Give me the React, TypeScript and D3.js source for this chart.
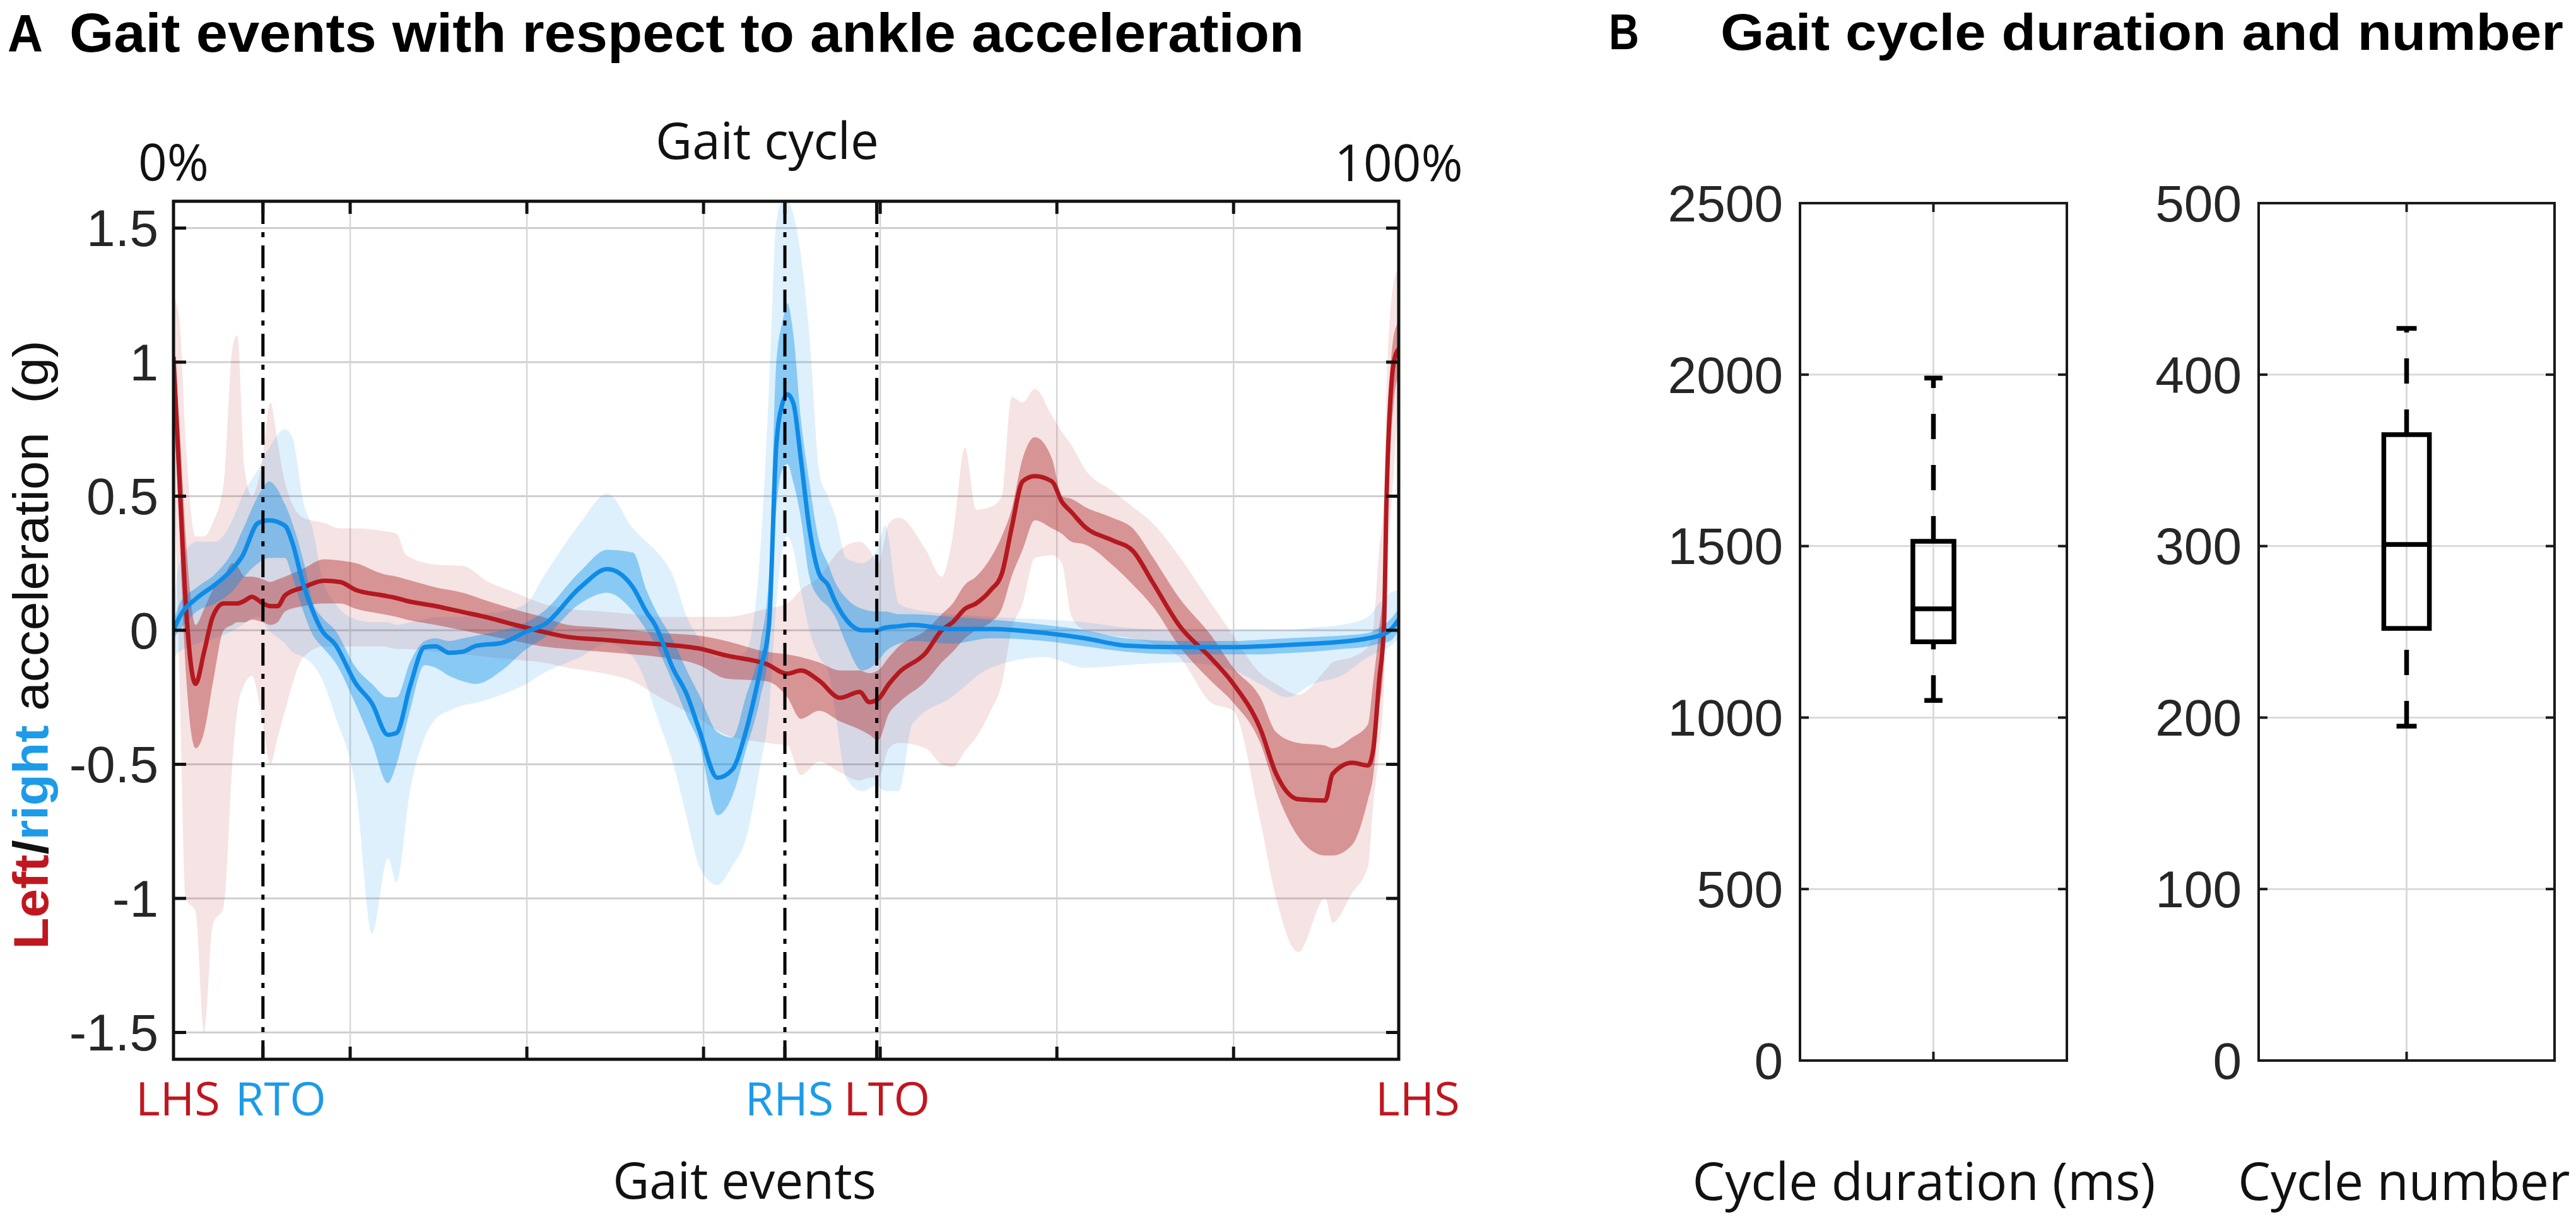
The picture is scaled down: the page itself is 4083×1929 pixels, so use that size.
import React from "react";
import * as d3 from "d3";

// ---- Panel A: ankle acceleration over the gait cycle (x in % of cycle, y in g) ----
const redX = [0, 0.5, 1.0, 1.8, 2.5, 3.2, 4.1, 4.8, 5.2, 5.8, 6.4, 7.3, 7.9, 8.5, 9.1, 10.6, 12.3, 13.6, 14.9, 17.1, 18.2, 19.0, 21.4, 23.6, 25.7, 27.9, 30.1, 32.2, 35, 37.5, 39.7, 42.9, 45.1, 48.4, 50.1, 51.2, 52.7, 54.4, 56.0, 56.8, 57.5, 58.4, 59.2, 61.4, 62.7, 63.6, 64.6, 65.5, 66.7, 67.6, 68.4, 69.3, 70.3, 71.7, 72.5, 73.3, 74.4, 76.6, 78.3, 79.9, 82.1, 84.7, 86.5, 88.7, 90.0, 91.8, 94.0, 94.6, 96.2, 97.5, 97.9, 98.4, 98.8, 99.0, 99.6, 100];
const redMean = [1.02, 0.55, 0.1, -0.2, -0.08, 0.05, 0.1, 0.1, 0.1, 0.11, 0.125, 0.1, 0.09, 0.09, 0.13, 0.16, 0.185, 0.18, 0.15, 0.13, 0.12, 0.11, 0.09, 0.068, 0.047, 0.02, -0.005, -0.025, -0.035, -0.045, -0.052, -0.068, -0.094, -0.126, -0.162, -0.15, -0.188, -0.252, -0.23, -0.268, -0.257, -0.2, -0.158, -0.084, 0.0, 0.03, 0.08, 0.1, 0.15, 0.21, 0.38, 0.555, 0.575, 0.555, 0.48, 0.44, 0.385, 0.336, 0.296, 0.18, 0.017, -0.105, -0.2, -0.367, -0.536, -0.63, -0.635, -0.536, -0.494, -0.504, -0.45, -0.19, 0.02, 0.48, 1.0, 1.05];
const redInLo = [0.9, 0.35, -0.15, -0.44, -0.38, -0.2, 0.0, 0.02, 0.03, 0.03, 0.04, 0.03, 0.02, 0.03, 0.07, 0.09, 0.1, 0.1, 0.08, 0.06, 0.05, 0.04, 0.02, 0.0, -0.02, -0.04, -0.06, -0.07, -0.08, -0.09, -0.1, -0.13, -0.18, -0.19, -0.25, -0.33, -0.3, -0.34, -0.37, -0.39, -0.41, -0.31, -0.27, -0.19, -0.12, -0.08, -0.03, 0.0, 0.03, 0.08, 0.2, 0.3, 0.41, 0.38, 0.36, 0.33, 0.32, 0.245, 0.17, 0.09, -0.06, -0.19, -0.27, -0.42, -0.6, -0.77, -0.84, -0.84, -0.8, -0.63, -0.55, -0.3, -0.1, 0.3, 0.85, 0.95];
const redInHi = [1.1, 0.75, 0.35, 0.02, 0.08, 0.15, 0.2, 0.25, 0.24, 0.2, 0.2, 0.19, 0.18, 0.19, 0.2, 0.23, 0.265, 0.26, 0.25, 0.21, 0.2, 0.19, 0.16, 0.14, 0.108, 0.077, 0.05, 0.02, 0.01, 0.0, -0.01, -0.02, -0.04, -0.08, -0.09, -0.1, -0.12, -0.15, -0.15, -0.16, -0.15, -0.1, -0.06, 0.0, 0.06, 0.1, 0.17, 0.2, 0.27, 0.35, 0.45, 0.64, 0.72, 0.64, 0.5, 0.49, 0.46, 0.42, 0.38, 0.275, 0.12, -0.02, -0.14, -0.25, -0.38, -0.42, -0.43, -0.44, -0.4, -0.35, -0.2, 0.0, 0.2, 0.6, 1.1, 1.15];
const redOutLo = [0.7, -0.2, -1.0, -1.05, -1.5, -1.1, -1.03, -0.5, -0.3, -0.2, -0.17, -0.35, -0.5, -0.4, -0.3, -0.1, -0.06, -0.06, -0.06, -0.06, -0.07, -0.07, -0.08, -0.09, -0.1, -0.11, -0.12, -0.14, -0.16, -0.19, -0.25, -0.33, -0.39, -0.42, -0.43, -0.54, -0.49, -0.53, -0.56, -0.55, -0.55, -0.44, -0.42, -0.44, -0.5, -0.51, -0.45, -0.4, -0.3, -0.2, 0.0, 0.1, 0.27, 0.28, 0.25, 0.05, 0.0, -0.02, -0.03, -0.05, -0.1, -0.27, -0.3, -0.71, -1.0, -1.2, -1.0, -1.09, -0.98, -0.88, -0.66, -0.45, -0.2, 0.1, 0.6, 0.85];
const redOutHi = [1.25, 1.15, 0.7, 0.35, 0.35, 0.4, 0.55, 1.05, 1.1, 0.6, 0.5, 0.65, 0.85, 0.7, 0.55, 0.42, 0.4, 0.38, 0.38, 0.37, 0.36, 0.28, 0.245, 0.24, 0.18, 0.14, 0.1, 0.08, 0.07, 0.06, 0.05, 0.05, 0.05, 0.08, 0.1, 0.15, 0.2, 0.3, 0.33, 0.3, 0.25, 0.4, 0.42, 0.3, 0.2, 0.35, 0.68, 0.45, 0.46, 0.5, 0.87, 0.85, 0.9, 0.8, 0.74, 0.69, 0.6, 0.52, 0.46, 0.4, 0.275, 0.1, -0.02, -0.16, -0.2, -0.24, -0.15, -0.12, -0.1, -0.06, 0.0, 0.3, 0.5, 0.9, 1.3, 1.35];

const blueX = [0, 0.5, 1.9, 3.4, 4.9, 5.6, 6.9, 7.8, 9.1, 9.7, 10.6, 11.4, 12.1, 13.2, 14.9, 16.2, 17.5, 18.2, 19.3, 20.5, 21.4, 22.5, 23.6, 24.7, 26.8, 28.8, 30.2, 33.2, 35.4, 37.5, 38.6, 39.3, 40.8, 41.9, 42.9, 44.4, 45.6, 46.7, 47.9, 48.6, 49.2, 49.7, 50.1, 50.6, 51.2, 51.9, 52.7, 53.4, 54.0, 54.9, 56.2, 57.4, 58.1, 59.2, 60.3, 63.5, 66.7, 71.1, 74.4, 77.7, 82.1, 86.5, 88.7, 90.9, 93.0, 95.3, 97.5, 98.4, 99.3, 100];
const blueMean = [0.0, 0.05, 0.12, 0.17, 0.233, 0.275, 0.4, 0.41, 0.39, 0.327, 0.17, 0.068, 0.0, -0.053, -0.2, -0.273, -0.39, -0.383, -0.21, -0.063, -0.06, -0.084, -0.08, -0.058, -0.047, -0.005, 0.02, 0.16, 0.228, 0.16, 0.068, 0.02, -0.146, -0.24, -0.37, -0.55, -0.52, -0.38, -0.146, 0.02, 0.69, 0.845, 0.88, 0.845, 0.64, 0.38, 0.21, 0.17, 0.108, 0.04, 0.0, 0.0, 0.01, 0.015, 0.02, 0.005, 0.005, -0.01, -0.03, -0.057, -0.063, -0.063, -0.06, -0.055, -0.05, -0.043, -0.03, -0.02, 0.0, 0.04];
const blueInLo = [-0.03, 0.0, 0.07, 0.1, 0.15, 0.19, 0.25, 0.27, 0.27, 0.2, 0.07, -0.02, -0.06, -0.12, -0.28, -0.42, -0.57, -0.5, -0.3, -0.13, -0.14, -0.17, -0.19, -0.2, -0.15, -0.07, -0.03, 0.1, 0.14, 0.07, 0.0, -0.05, -0.2, -0.32, -0.42, -0.69, -0.62, -0.45, -0.25, -0.07, 0.45, 0.6, 0.62, 0.55, 0.42, 0.2, 0.12, 0.09, 0.05, -0.05, -0.15, -0.12, -0.08, -0.05, -0.04, -0.05, -0.03, -0.04, -0.06, -0.08, -0.09, -0.09, -0.09, -0.085, -0.08, -0.07, -0.06, -0.05, -0.04, 0.0];
const blueInHi = [0.03, 0.1, 0.16, 0.21, 0.3, 0.37, 0.5, 0.555, 0.47, 0.4, 0.26, 0.1, 0.05, 0.0, -0.14, -0.2, -0.25, -0.25, -0.12, -0.04, -0.03, -0.04, -0.03, -0.02, 0.0, 0.03, 0.07, 0.22, 0.3, 0.29, 0.15, 0.08, -0.04, -0.15, -0.24, -0.38, -0.4, -0.25, -0.05, 0.2, 1.0, 1.15, 1.22, 1.1, 0.79, 0.55, 0.33, 0.25, 0.18, 0.12, 0.08, 0.07, 0.07, 0.06, 0.06, 0.05, 0.04, 0.02, 0.0, -0.03, -0.04, -0.04, -0.035, -0.03, -0.025, -0.02, -0.01, 0.01, 0.04, 0.08];
const blueOutLo = [-0.1, -0.08, -0.05, -0.03, 0.0, 0.02, 0.05, 0.0, -0.05, -0.08, -0.1, -0.13, -0.18, -0.32, -0.6, -1.13, -0.85, -0.94, -0.6, -0.4, -0.33, -0.3, -0.28, -0.27, -0.24, -0.2, -0.16, -0.1, -0.05, -0.1, -0.2, -0.3, -0.5, -0.7, -0.88, -0.95, -0.88, -0.78, -0.5, -0.3, 0.1, 0.3, 0.35, 0.3, 0.15, 0.0, -0.1, -0.15, -0.3, -0.55, -0.6, -0.58, -0.6, -0.6, -0.35, -0.25, -0.14, -0.1, -0.14, -0.13, -0.12, -0.15, -0.2, -0.25, -0.2, -0.17, -0.1, -0.08, -0.06, -0.03];
const blueOutHi = [0.1, 0.25, 0.33, 0.33, 0.42, 0.5, 0.6, 0.68, 0.75, 0.72, 0.48, 0.37, 0.2, 0.1, 0.04, 0.03, 0.03, 0.02, 0.03, 0.04, 0.05, 0.05, 0.05, 0.06, 0.07, 0.1, 0.2, 0.4, 0.51, 0.38, 0.33, 0.3, 0.2, 0.05, -0.03, -0.1, -0.1, -0.08, 0.3, 0.9, 1.52, 1.6, 1.6, 1.55, 1.4, 1.1, 0.59, 0.5, 0.43, 0.27, 0.25, 0.3, 0.39, 0.1, 0.08, 0.06, 0.05, 0.04, 0.03, 0.01, 0.0, 0.0, 0.0, 0.0, 0.01, 0.02, 0.05, 0.1, 0.14, 0.15];

const accTicks = [-1.5, -1, -0.5, 0, 0.5, 1, 1.5];
const cycleGrid = [14.42, 28.84, 43.26, 57.68, 72.1, 86.52];
const eventNames = ["LHS", "RTO", "RHS", "LTO", "LHS"];
const eventPos = [0, 7.3, 49.9, 57.4, 100];
const eventSide = ["left", "right", "right", "left", "left"];
const eventLines = [7.3, 49.9, 57.4];

// ---- Panel B: box plots ----
const boxNames = ["Cycle duration (ms)", "Cycle number"];
const boxMin = [1050, 195];
const boxQ1 = [1221, 252];
const boxMedian = [1317, 301];
const boxQ3 = [1514, 365];
const boxMax = [1990, 427];
const boxYMax = [2500, 500];
const boxTicks = [
  [0, 500, 1000, 1500, 2000, 2500],
  [0, 100, 200, 300, 400, 500],
];

const RED = "#b3191f";
const BLUE = "#0f8be6";
const RED_TXT = "#c0171f";
const BLUE_TXT = "#1d9be8";
const W = 4083;
const H = 1929;

export default function App() {
  const A = { left: 275, right: 2217, top: 319, bottom: 1679 };
  const x = d3.scaleLinear().domain([0, 100]).range([A.left, A.right]);
  const y = d3.scaleLinear().domain([-1.6, 1.6]).range([A.bottom, A.top]);

  const band = (xs: number[], lo: number[], hi: number[]) =>
    d3
      .area<number>()
      .x((d) => x(d))
      .y0((_d, i) => y(lo[i]))
      .y1((_d, i) => y(hi[i]))
      .curve(d3.curveMonotoneX)(xs) || "";
  const mean = (xs: number[], v: number[]) =>
    d3
      .line<number>()
      .x((d) => x(d))
      .y((_d, i) => y(v[i]))
      .curve(d3.curveMonotoneX)(xs) || "";

  const midA = (A.left + A.right) / 2;
  const tickLen = 20;

  const B = [
    { left: 2853, right: 3276 },
    { left: 3580, right: 4049 },
  ];
  const bTop = 322;
  const bBottom = 1681;

  return (
    <>
      <style>{`body{margin:0;overflow:hidden;background:#fff}`}</style>
      <svg width={W} height={H} viewBox={`0 0 ${W} ${H}`} style={{ display: "block" }}>
        <rect x={0} y={0} width={W} height={H} fill="#fff" />
        <defs>
          <clipPath id="clipA">
            <rect x={A.left} y={A.top} width={A.right - A.left} height={A.bottom - A.top} />
          </clipPath>
        </defs>

        {/* titles */}
        <text x={12} y={82} fontFamily="Liberation Sans" fontWeight={700} fontSize={84} textLength={56} lengthAdjust="spacingAndGlyphs">
          A
        </text>
        <text x={110} y={82} fontFamily="Liberation Sans" fontWeight={700} fontSize={88} textLength={1957} lengthAdjust="spacingAndGlyphs">
          Gait events with respect to ankle acceleration
        </text>
        <text x={2550} y={78} fontFamily="Liberation Sans" fontWeight={700} fontSize={80} textLength={48} lengthAdjust="spacingAndGlyphs">
          B
        </text>
        <text x={2727} y={79} fontFamily="Liberation Sans" fontWeight={700} fontSize={82} textLength={1336} lengthAdjust="spacingAndGlyphs">
          Gait cycle duration and number
        </text>

        {/* ---------- panel A ---------- */}
        <g>
          {accTicks.map((t) => (
            <line key={"hg" + t} x1={A.left} x2={A.right} y1={y(t)} y2={y(t)} stroke="#cfcfcf" strokeWidth={3} />
          ))}
          {cycleGrid.map((t) => (
            <line key={"vg" + t} x1={x(t)} x2={x(t)} y1={A.top} y2={A.bottom} stroke="#d6d6d6" strokeWidth={2.5} />
          ))}
        </g>
        <g clipPath="url(#clipA)">
          <path d={band(redX, redOutLo, redOutHi)} fill={RED} fillOpacity={0.12} />
          <path d={band(blueX, blueOutLo, blueOutHi)} fill="#008ceb" fillOpacity={0.13} />
          <path d={band(redX, redInLo, redInHi)} fill="#aa1e1e" fillOpacity={0.4} />
          <path d={band(blueX, blueInLo, blueInHi)} fill="#008ceb" fillOpacity={0.38} />
          <path d={mean(redX, redMean)} fill="none" stroke={RED} strokeWidth={7} strokeLinejoin="round" />
          <path d={mean(blueX, blueMean)} fill="none" stroke={BLUE} strokeWidth={7} strokeLinejoin="round" />
        </g>
        {eventLines.map((e) => (
          <line key={"ev" + e} x1={x(e)} x2={x(e)} y1={A.top} y2={A.bottom} stroke="#000" strokeWidth={5} strokeDasharray="36 13 8 13" />
        ))}
        <rect x={A.left} y={A.top} width={A.right - A.left} height={A.bottom - A.top} fill="none" stroke="#111" strokeWidth={5} />
        {accTicks.map((t) => (
          <g key={"yt" + t}>
            <line x1={A.left} x2={A.left + tickLen} y1={y(t)} y2={y(t)} stroke="#111" strokeWidth={5} />
            <line x1={A.right} x2={A.right - tickLen} y1={y(t)} y2={y(t)} stroke="#111" strokeWidth={5} />
            <text x={A.left - 24} y={y(t)} dy="0.35em" textAnchor="end" fontFamily="Liberation Sans" fontSize={82} fill="#262626">
              {String(t)}
            </text>
          </g>
        ))}
        {[...cycleGrid, ...eventLines].map((t) => (
          <g key={"xt" + t}>
            <line x1={x(t)} x2={x(t)} y1={A.bottom} y2={A.bottom - tickLen} stroke="#111" strokeWidth={5} />
            <line x1={x(t)} x2={x(t)} y1={A.top} y2={A.top + tickLen} stroke="#111" strokeWidth={5} />
          </g>
        ))}
        <text x={x(0)} y={286} textAnchor="middle" fontFamily="Open Sans" fontSize={80} fill="#111">
          0%
        </text>
        <text x={x(100)} y={287} textAnchor="middle" fontFamily="Open Sans" fontSize={80} fill="#111">
          100%
        </text>
        <text x={midA - 30} y={252} textAnchor="middle" fontFamily="Open Sans" fontSize={80} fill="#111">
          Gait cycle
        </text>
        {eventNames.map((n, i) => (
          <text
            key={"en" + i}
            x={x(eventPos[i]) + (i === 1 ? 28 : i === 3 ? 16 : i === 4 ? 30 : 7)}
            y={1768}
            textAnchor="middle"
            fontFamily="Open Sans"
            fontSize={74}
            fill={eventSide[i] === "left" ? RED_TXT : BLUE_TXT}
          >
            {n}
          </text>
        ))}
        <text x={midA - 66} y={1900} textAnchor="middle" fontFamily="Open Sans" fontSize={80} fill="#111">
          Gait events
        </text>
        <text
          transform={`translate(76,${(A.top + A.bottom) / 2 + 23}) rotate(-90)`}
          textAnchor="middle"
          fontFamily="Liberation Sans"
          fontSize={78}
          textLength={965}
          lengthAdjust="spacingAndGlyphs"
          style={{ whiteSpace: "pre" }}
        >
          <tspan fontWeight={700} fill={RED_TXT}>Left</tspan>
          <tspan fontWeight={700} fill="#111">/</tspan>
          <tspan fontWeight={700} fill={BLUE_TXT}>right</tspan>
          <tspan fill="#111">{" acceleration  (g)"}</tspan>
        </text>

        {/* ---------- panel B ---------- */}
        {B.map((ax, k) => {
          const yb = d3.scaleLinear().domain([0, boxYMax[k]]).range([bBottom, bTop]);
          const xb = d3.scaleLinear().domain([0, 1]).range([ax.left, ax.right]);
          const cx = xb(0.5);
          const bw = 0.077;
          const cw = 0.034;
          return (
            <g key={"b" + k}>
              {boxTicks[k].map((t) => (
                <line key={"bg" + t} x1={ax.left} x2={ax.right} y1={yb(t)} y2={yb(t)} stroke="#dadada" strokeWidth={3} />
              ))}
              <line x1={cx} x2={cx} y1={bTop} y2={bBottom} stroke="#dadada" strokeWidth={3} />
              <rect x={ax.left} y={bTop} width={ax.right - ax.left} height={bBottom - bTop} fill="none" stroke="#1a1a1a" strokeWidth={4} />
              {boxTicks[k].map((t) => (
                <g key={"bt" + t}>
                  <line x1={ax.left} x2={ax.left + 14} y1={yb(t)} y2={yb(t)} stroke="#1a1a1a" strokeWidth={4} />
                  <line x1={ax.right} x2={ax.right - 14} y1={yb(t)} y2={yb(t)} stroke="#1a1a1a" strokeWidth={4} />
                  <text x={ax.left - 27} y={yb(t)} dy="0.35em" textAnchor="end" fontFamily="Liberation Sans" fontSize={82} fill="#262626">
                    {String(t)}
                  </text>
                </g>
              ))}
              <line x1={cx} x2={cx} y1={bBottom} y2={bBottom - 14} stroke="#1a1a1a" strokeWidth={4} />
              <line x1={cx} x2={cx} y1={bTop} y2={bTop + 14} stroke="#1a1a1a" strokeWidth={4} />

              {/* whiskers */}
              <line x1={cx} x2={cx} y1={yb(boxQ3[k])} y2={yb(boxMax[k])} stroke="#000" strokeWidth={7.5} strokeDasharray="40 41" />
              <line x1={cx} x2={cx} y1={yb(boxMin[k])} y2={yb(boxQ1[k])} stroke="#000" strokeWidth={7.5} strokeDasharray="40 41" />
              <line x1={xb(0.5 - cw)} x2={xb(0.5 + cw)} y1={yb(boxMax[k])} y2={yb(boxMax[k])} stroke="#000" strokeWidth={7.5} />
              <line x1={xb(0.5 - cw)} x2={xb(0.5 + cw)} y1={yb(boxMin[k])} y2={yb(boxMin[k])} stroke="#000" strokeWidth={7.5} />
              {/* box and median */}
              <rect
                x={xb(0.5 - bw)}
                y={yb(boxQ3[k])}
                width={xb(0.5 + bw) - xb(0.5 - bw)}
                height={yb(boxQ1[k]) - yb(boxQ3[k])}
                fill="none"
                stroke="#000"
                strokeWidth={7.5}
              />
              <line x1={xb(0.5 - bw)} x2={xb(0.5 + bw)} y1={yb(boxMedian[k])} y2={yb(boxMedian[k])} stroke="#000" strokeWidth={7.5} />

              <text x={cx - (k === 0 ? 15 : 4)} y={1902} textAnchor="middle" fontFamily="Open Sans" fontSize={82} fill="#111">
                {boxNames[k]}
              </text>
            </g>
          );
        })}
      </svg>
    </>
  );
}
